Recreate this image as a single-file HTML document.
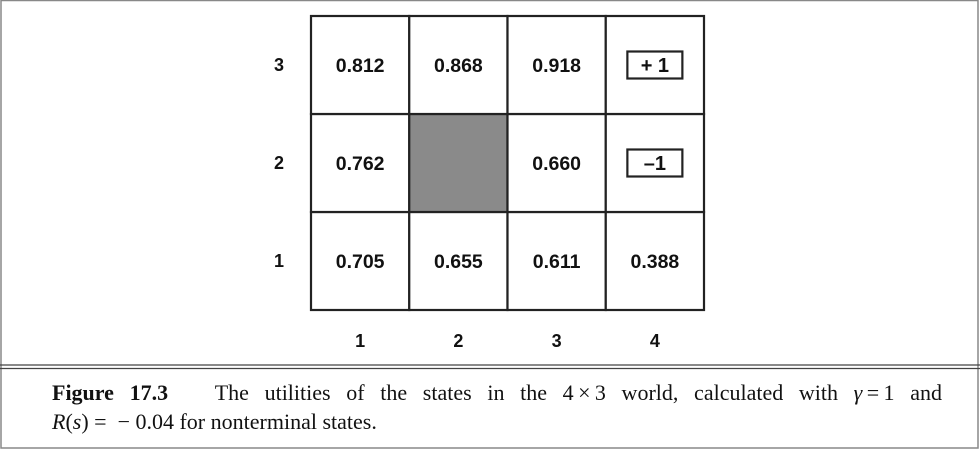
<!DOCTYPE html>
<html><head><meta charset="utf-8"><style>
body{margin:0;background:#fff;}
#wrap{position:relative;width:980px;height:450px;overflow:hidden;}
svg{position:absolute;left:0;top:0;}
.cap{position:absolute;left:52px;width:890px;font-family:"Liberation Serif",serif;font-size:22px;color:#111;white-space:nowrap;}
</style></head><body>
<div id="wrap">
<svg width="980" height="450">
<rect x="1" y="0.5" width="977" height="447.5" fill="none" stroke="#888" stroke-width="1.5"/>
<line x1="0" y1="365" x2="980" y2="365" stroke="#444" stroke-width="1.2"/>
<line x1="0" y1="368.5" x2="980" y2="368.5" stroke="#444" stroke-width="1.2"/>
<g id="g"></g>
</svg>
<div class="cap" style="top:380px;text-align:justify;text-align-last:justify;white-space:normal;height:27px;overflow:hidden"><b>Figure&nbsp;17.3</b>&nbsp;&nbsp; The utilities of the states in the 4&thinsp;×&thinsp;3 world, calculated with <i>γ</i>&thinsp;=&thinsp;1 and</div>
<div class="cap" style="top:409px"><i>R</i>(<i>s</i>) = &nbsp;− 0.04 for nonterminal states.</div>
</div>
<script>
const cols=["1","2","3","4"];
const rows=["1","2","3"];
const utilities=[["0.705","0.655","0.611","0.388"],["0.762",null,"0.660",null],["0.812","0.868","0.918",null]];
const terminals={"2,3":"+ 1","1,3":"–1"};
const wall=[2,1];
const x0=311,y0=16,cw=98.25,ch=98;
const X=c=>x0+c*cw, Y=r=>y0+(rows.length-1-r)*ch;
const ns="http://www.w3.org/2000/svg",g=document.getElementById('g');
function mk(t,a,txt){const e=document.createElementNS(ns,t);for(const k in a)e.setAttribute(k,a[k]);if(txt!=null)e.textContent=txt;g.appendChild(e);return e;}
const font='"Liberation Sans",Arial,sans-serif';
for(let r=0;r<rows.length;r++)for(let c=0;c<cols.length;c++){
  const isWall=(c===wall[0]-1&&r===wall[1]);
  const cell=mk('rect',{x:X(c),y:Y(r),width:cw,height:ch,fill:isWall?'#8a8a8a':'#fff',stroke:'#222','stroke-width':2.2});
  
  
  const key=r+','+c;
  const cx=X(c)+cw/2, cy=Y(r)+ch/2;
  if(terminals[key]){
    const b=mk('rect',{x:cx-27.5,y:cy-13.5,width:55,height:27,fill:'#fff',stroke:'#222','stroke-width':2.2});
    
    
    const t=mk('text',{x:cx,y:cy+7,'text-anchor':'middle','font-family':font,'font-weight':'bold','font-size':20,fill:'#111'},terminals[key]);
    
    
  } else if(utilities[r][c]!=null){
    const t=mk('text',{x:cx,y:cy+7,'text-anchor':'middle','font-family':font,'font-weight':'bold','font-size':19.5,fill:'#111'},utilities[r][c]);
    
    
  }
}
for(let c=0;c<cols.length;c++){const t=mk('text',{x:X(c)+cw/2,y:347,'text-anchor':'middle','font-family':font,'font-weight':'bold','font-size':18,fill:'#111'},cols[c]);
  
  }
for(let r=0;r<rows.length;r++){const t=mk('text',{x:279,y:Y(r)+ch/2+6,'text-anchor':'middle','font-family':font,'font-weight':'bold','font-size':18,fill:'#111'},rows[r]);
  
  }
</script>
</body></html>
